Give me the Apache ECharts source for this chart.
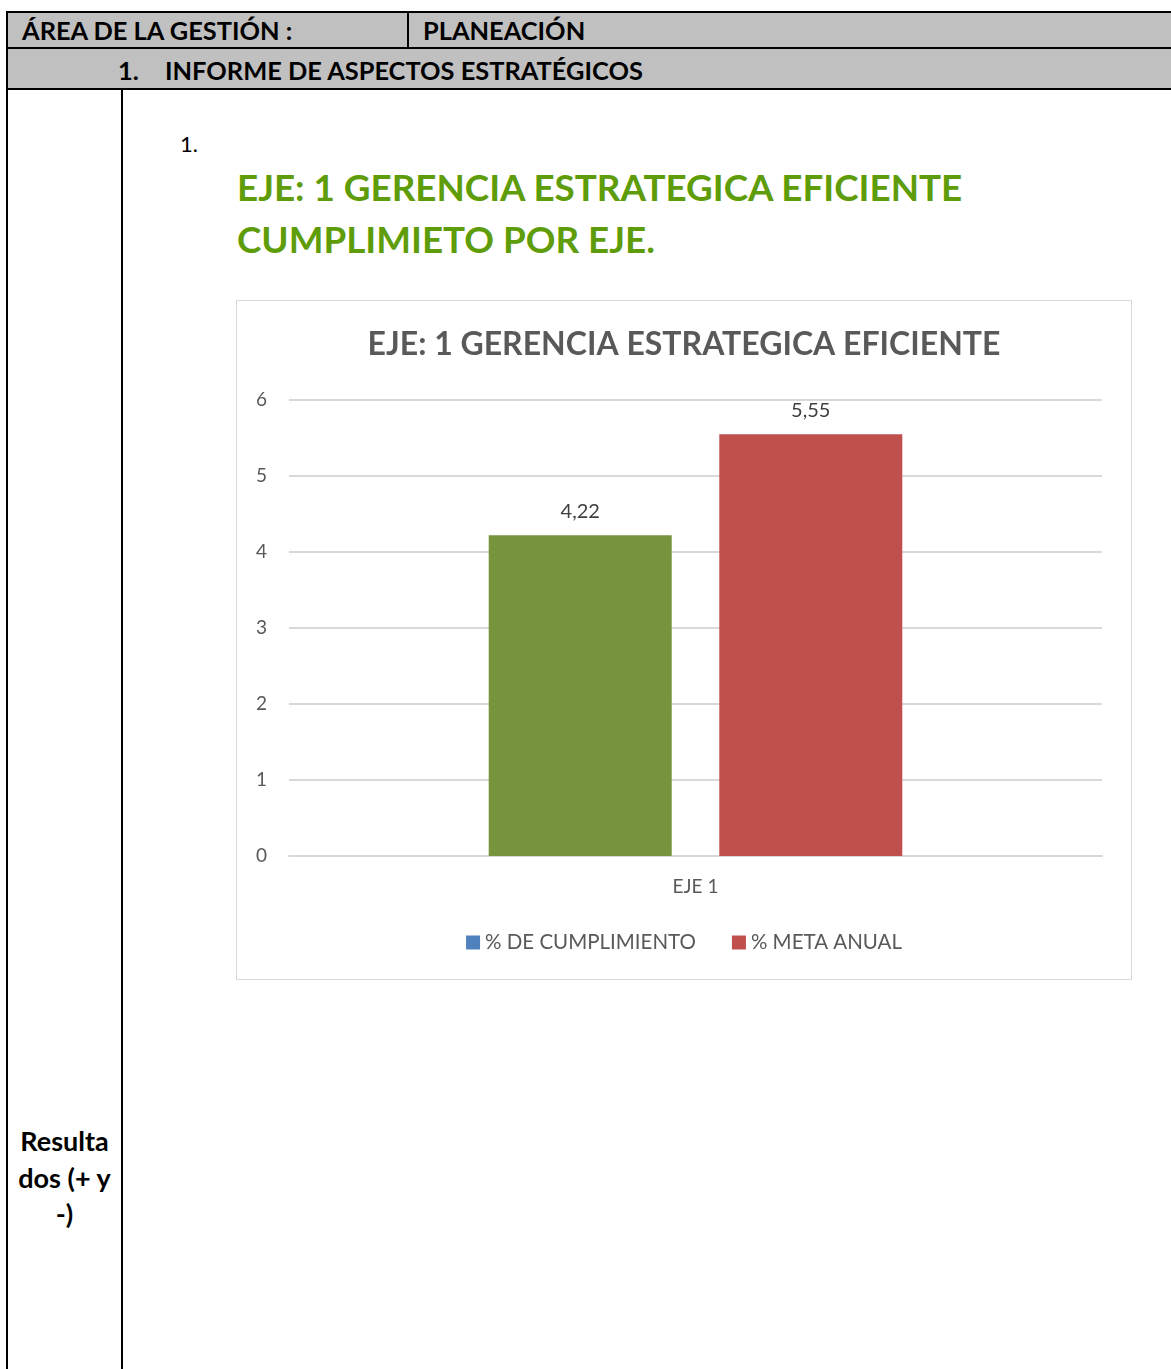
<!DOCTYPE html>
<html>
<head>
<meta charset="utf-8">
<script src="https://cdn.jsdelivr.net/npm/echarts@6/dist/echarts.min.js"></script>
<style>
  html, body { margin: 0; padding: 0; background: #fff; }
  body { width: 1171px; height: 1369px; position: relative; overflow: hidden; font-family: Lato, 'Noto Sans', sans-serif; }
  .abs { position: absolute; }
  .gray { background: #c0c0c0; }
  .hdr { font-weight: bold; font-size: 25.4px; color: #000; white-space: nowrap; line-height: 1; }
  .green { color: #5e9c0a; font-weight: bold; font-size: 36.8px; white-space: nowrap; line-height: 1; }
  #chart { left: 236px; top: 300px; width: 894px; height: 678px; border: 1px solid #d9d9d9; background: #fff; }
</style>
</head>
<body>
  <!-- table frame -->
  <div class="abs gray" style="left:7px;top:12px;width:1170px;height:77px;"></div>
  <div class="abs" style="left:7px;top:11px;width:1170px;height:2px;background:#000;"></div>
  <div class="abs" style="left:7px;top:47px;width:1170px;height:2px;background:#000;"></div>
  <div class="abs" style="left:7px;top:88px;width:1170px;height:2px;background:#000;"></div>
  <div class="abs" style="left:6px;top:11px;width:2px;height:1360px;background:#000;"></div>
  <div class="abs" style="left:407px;top:12px;width:2px;height:36px;background:#000;"></div>
  <div class="abs" style="left:121px;top:89px;width:2px;height:1280px;background:#000;"></div>

  <div class="abs hdr" style="left:22px;top:18px;">ÁREA DE LA GESTIÓN :</div>
  <div class="abs hdr" style="left:423px;top:18px;">PLANEACIÓN</div>
  <div class="abs hdr" style="left:118px;top:58px;">1.</div>
  <div class="abs hdr" style="left:165px;top:58px;">INFORME DE ASPECTOS ESTRATÉGICOS</div>

  <div class="abs" style="left:180px;top:133px;font-size:22px;line-height:1;">1.</div>
  <div class="abs green" style="left:237px;top:169px;">EJE: 1 GERENCIA ESTRATEGICA EFICIENTE</div>
  <div class="abs green" style="left:237px;top:221px;">CUMPLIMIETO POR EJE.</div>

  <div class="abs" style="left:7px;top:1123px;width:115px;text-align:center;font-weight:bold;font-size:27px;line-height:36.5px;">Resulta<br>dos (+ y<br>-)</div>

  <div id="chart" class="abs"></div>

<script>
// chart values
const categories = ['EJE 1'];
const seriesNames = ['% DE CUMPLIMIENTO', '% META ANUAL'];
const cumplimiento = [4.22];
const metaAnual = [5.55];
const yMin = 0;
const yMax = 6;
const yStep = 1;

const chartTitle = 'EJE: 1 GERENCIA ESTRATEGICA EFICIENTE';
const font = 'Lato, "Noto Sans", sans-serif';

// excel style number: 4,22
function comma(p) {
    return String(p.value).replace('.', ',');
}

const chart = echarts.init(document.getElementById('chart'), null, { renderer: 'canvas' });

chart.setOption({
    animation: false,
    textStyle: { fontFamily: font },
    title: {
        text: chartTitle,
        left: 'center',
        top: 23,
        textStyle: { fontSize: 32, fontWeight: 'bold', color: '#595959', fontFamily: font }
    },
    legend: {
        data: seriesNames,
        top: 626,
        left: 'center',
        itemWidth: 14,
        itemHeight: 14,
        itemGap: 36,
        icon: 'rect',
        textStyle: { fontSize: 20.5, color: '#595959', fontFamily: font }
    },
    grid: { left: 52, right: 29, top: 99, bottom: 123 },
    xAxis: {
        type: 'category',
        data: categories,
        axisTick: { show: false },
        axisLine: { lineStyle: { color: '#d9d9d9', width: 2 } },
        axisLabel: { color: '#595959', fontSize: 19, margin: 21 }
    },
    yAxis: {
        type: 'value',
        min: yMin,
        max: yMax,
        interval: yStep,
        axisLine: { show: false },
        axisTick: { show: false },
        axisLabel: { color: '#595959', fontSize: 19, margin: 22 },
        splitLine: { lineStyle: { color: '#d9d9d9', width: 2 } }
    },
    series: [
        {
            name: seriesNames[0],
            type: 'bar',
            color: '#4F81BD',
            barWidth: 183,
            barGap: '26%',
            data: cumplimiento.map(v => ({ value: v, itemStyle: { color: '#77933C' } })),
            label: { show: true, position: 'top', distance: 14, formatter: comma, color: '#404040', fontSize: 20 }
        },
        {
            name: seriesNames[1],
            type: 'bar',
            color: '#C0504D',
            barWidth: 183,
            data: metaAnual,
            label: { show: true, position: 'top', distance: 14, formatter: comma, color: '#404040', fontSize: 20 }
        }
    ]
});
</script>
</body>
</html>
